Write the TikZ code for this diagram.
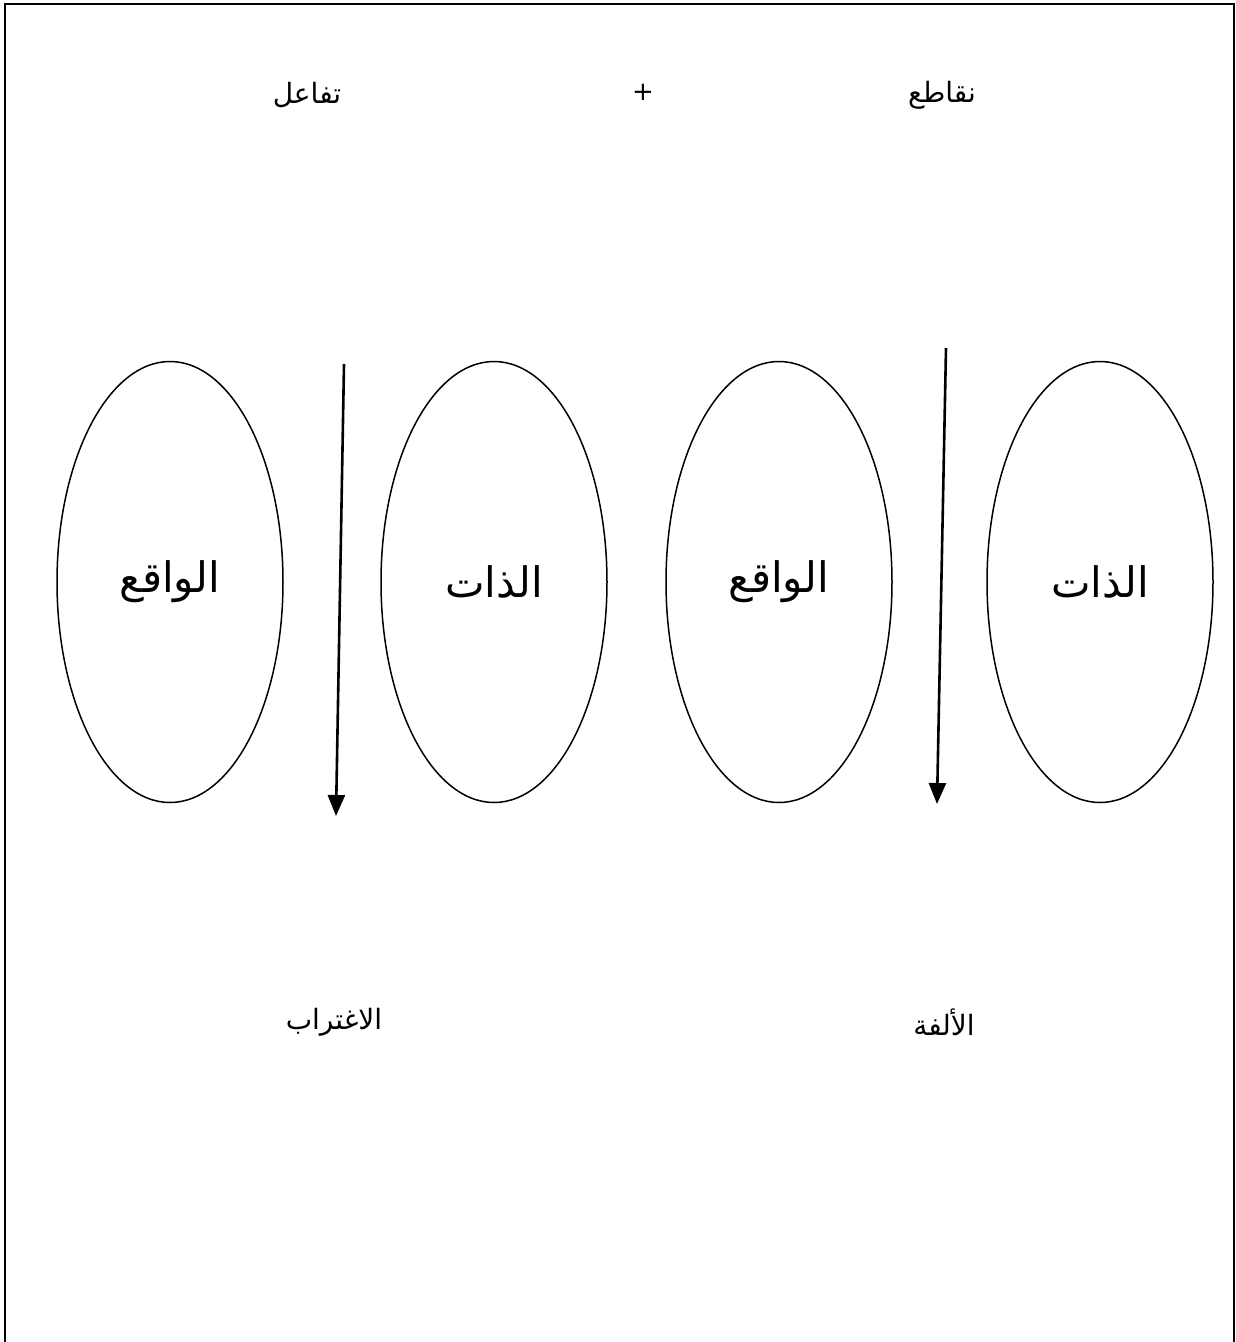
\documentclass[tikz,border=0pt]{standalone}
\usepackage{fontspec}
\usetikzlibrary{shapes.geometric,arrows.meta}
\TeXXeTstate=1
\newfontfamily\arabicfont[Script=Arabic]{DejaVu Sans}
\begin{document}
\begin{tikzpicture}[x=1pt,y=-1pt,
  oval/.style={ellipse,draw,line width=1.5pt,minimum width=226pt,minimum height=441pt,inner sep=0pt,font=\arabicfont\fontsize{42}{48}\selectfont},
  lbl/.style={font=\arabicfont\fontsize{28}{32}\selectfont,inner sep=0pt},
  arr/.style={line width=2.6pt,-{Triangle[width=17pt,length=21pt]}}]
\useasboundingbox (0,0) rectangle (1236,1342);
\draw[line width=2.6pt] (5,1344) -- (5,4) -- (1234,4) -- (1234,1344);
\node[oval] (e1) at (170,582) {\beginR الواقع\endR};
\node[oval] (e2) at (494,582) {\beginR الذات\endR};
\node[oval] (e3) at (779,582) {\beginR الواقع\endR};
\node[oval] (e4) at (1100,582) {\beginR الذات\endR};
\node[lbl] (t1) at (307,95) {\beginR تفاعل\endR};
\node[font=\arabicfont\fontsize{26}{30}\selectfont,inner sep=0pt] (plus) at (643,92) {+};
\node[lbl] (t2) at (942,95) {\beginR نقاطع\endR};
\node[lbl] (b1) at (334,1022) {\beginR الاغتراب\endR};
\node[lbl] (b2) at (944,1022) {\beginR الألفة\endR};
\coordinate (a1s) at (344,364);
\coordinate (a1e) at (336,816);
\coordinate (a2s) at (946,348);
\coordinate (a2e) at (937,804);
\draw[arr] (a1s) -- (a1e);
\draw[arr] (a2s) -- (a2e);
\end{tikzpicture}
\end{document}
